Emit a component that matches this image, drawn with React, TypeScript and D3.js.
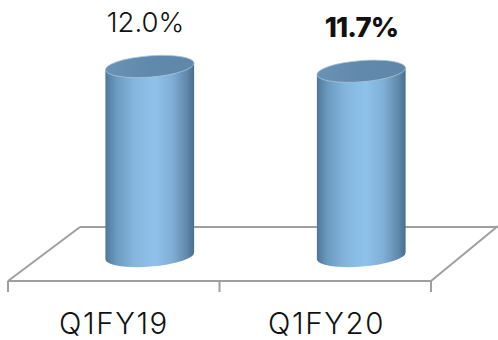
import React from "react";
import * as d3 from "d3";

const categories = ["Q1FY19", "Q1FY20"];
const values = [12.0, 11.7];
const valueLabels = ["12.0%", "11.7%"];
const labelWeights = [300, 800];

const WIDTH = 498;
const HEIGHT = 340;
const FRONT_Y = 281;
const BACK_Y = 227;
const LEFT_X = 8;
const RIGHT_X = 431;
const DEPTH_X = 72;
const FLOOR_LEVEL = 256;
const RX = 44.5;
const RY = 10.6;
const TILT = -4.5;
const FONT = "Inter, 'Open Sans', sans-serif";

const x = d3.scaleBand<string>().domain(categories).range([LEFT_X, RIGHT_X]);
const y = d3.scaleLinear().domain([0, 12]).range([FLOOR_LEVEL, 66.5]);

// Outline of one upright cylinder: the near half of the base ellipse closes the side wall.
function cylinderPaths(cx: number, top: number, bottom: number) {
  const a = (TILT * Math.PI) / 180;
  const dx = RX * Math.cos(a);
  const dy = RX * Math.sin(a);
  const arc = `${RX} ${RY} ${TILT}`;
  const lx = cx - dx, rx = cx + dx;
  const body = `M${lx},${top - dy} L${lx},${bottom - dy} A${arc} 0 0 ${rx},${bottom + dy} L${rx},${top + dy} Z`;
  const cap = `M${lx},${top - dy} A${arc} 0 1 ${rx},${top + dy} A${arc} 0 1 ${lx},${top - dy} Z`;
  return { body, cap };
}

export default function App() {
  const grey = "#9f9f9f";
  const floor = [
    [LEFT_X, FRONT_Y, RIGHT_X, FRONT_Y],
    [LEFT_X, FRONT_Y, LEFT_X + DEPTH_X, BACK_Y],
    [LEFT_X + DEPTH_X, BACK_Y, WIDTH, BACK_Y],
    [RIGHT_X, FRONT_Y, WIDTH, BACK_Y - 1],
  ];
  const ticks = [LEFT_X, ...categories.map((c) => (x(c) as number) + x.bandwidth())];
  return (
    <svg
      width={WIDTH}
      height={HEIGHT}
      viewBox={`0 0 ${WIDTH} ${HEIGHT}`}
      style={{ position: "absolute", left: 0, top: 0, background: "#fff" }}
    >
      <defs>
        <linearGradient id="wall" x1="0" x2="1" y1="0" y2="0">
          <stop offset="0" stopColor="#4f7799" />
          <stop offset="0.12" stopColor="#6a9abf" />
          <stop offset="0.32" stopColor="#84b5dd" />
          <stop offset="0.55" stopColor="#8fc2ea" />
          <stop offset="0.75" stopColor="#80afd6" />
          <stop offset="0.92" stopColor="#5f88aa" />
          <stop offset="1" stopColor="#4a6d8c" />
        </linearGradient>
        <linearGradient id="cap" x1="0" x2="1" y1="0" y2="0">
          <stop offset="0" stopColor="#6a92b4" />
          <stop offset="0.5" stopColor="#6089ab" />
          <stop offset="1" stopColor="#5f87a8" />
        </linearGradient>
      </defs>

      {floor.map(([x1, y1, x2, y2], i) => (
        <line key={i} x1={x1} y1={y1} x2={x2} y2={y2} stroke={grey} strokeWidth={2} />
      ))}
      {ticks.map((t) => (
        <line key={t} x1={t} x2={t} y1={FRONT_Y} y2={FRONT_Y + 11} stroke={grey} strokeWidth={2} />
      ))}

      {categories.map((c, i) => {
        const cx = (x(c) as number) + x.bandwidth() / 2 + DEPTH_X / 2;
        const { body, cap } = cylinderPaths(cx, y(values[i]), y(0));
        return (
          <g key={c}>
            <path d={body} fill="url(#wall)" />
            <path d={cap} fill="url(#cap)" stroke="#a9c3d8" strokeWidth={0.8} />
            <text
              x={[145.5, 361.5][i]}
              y={y(values[i]) - 34.5}
              textAnchor="middle"
              fontFamily={FONT}
              fontSize={27.5}
              fontWeight={labelWeights[i]}
              fill="#111"
              letterSpacing={i === 0 ? 0 : -0.8}
            >
              {valueLabels[i]}
            </text>
            <text
              x={[114, 326.5][i]}
              y={333.5}
              textAnchor="middle"
              fontFamily={FONT}
              fontSize={29.5}
              fontWeight={300}
              fill="#111"
              letterSpacing={1.6}
            >
              {c}
            </text>
          </g>
        );
      })}
    </svg>
  );
}
